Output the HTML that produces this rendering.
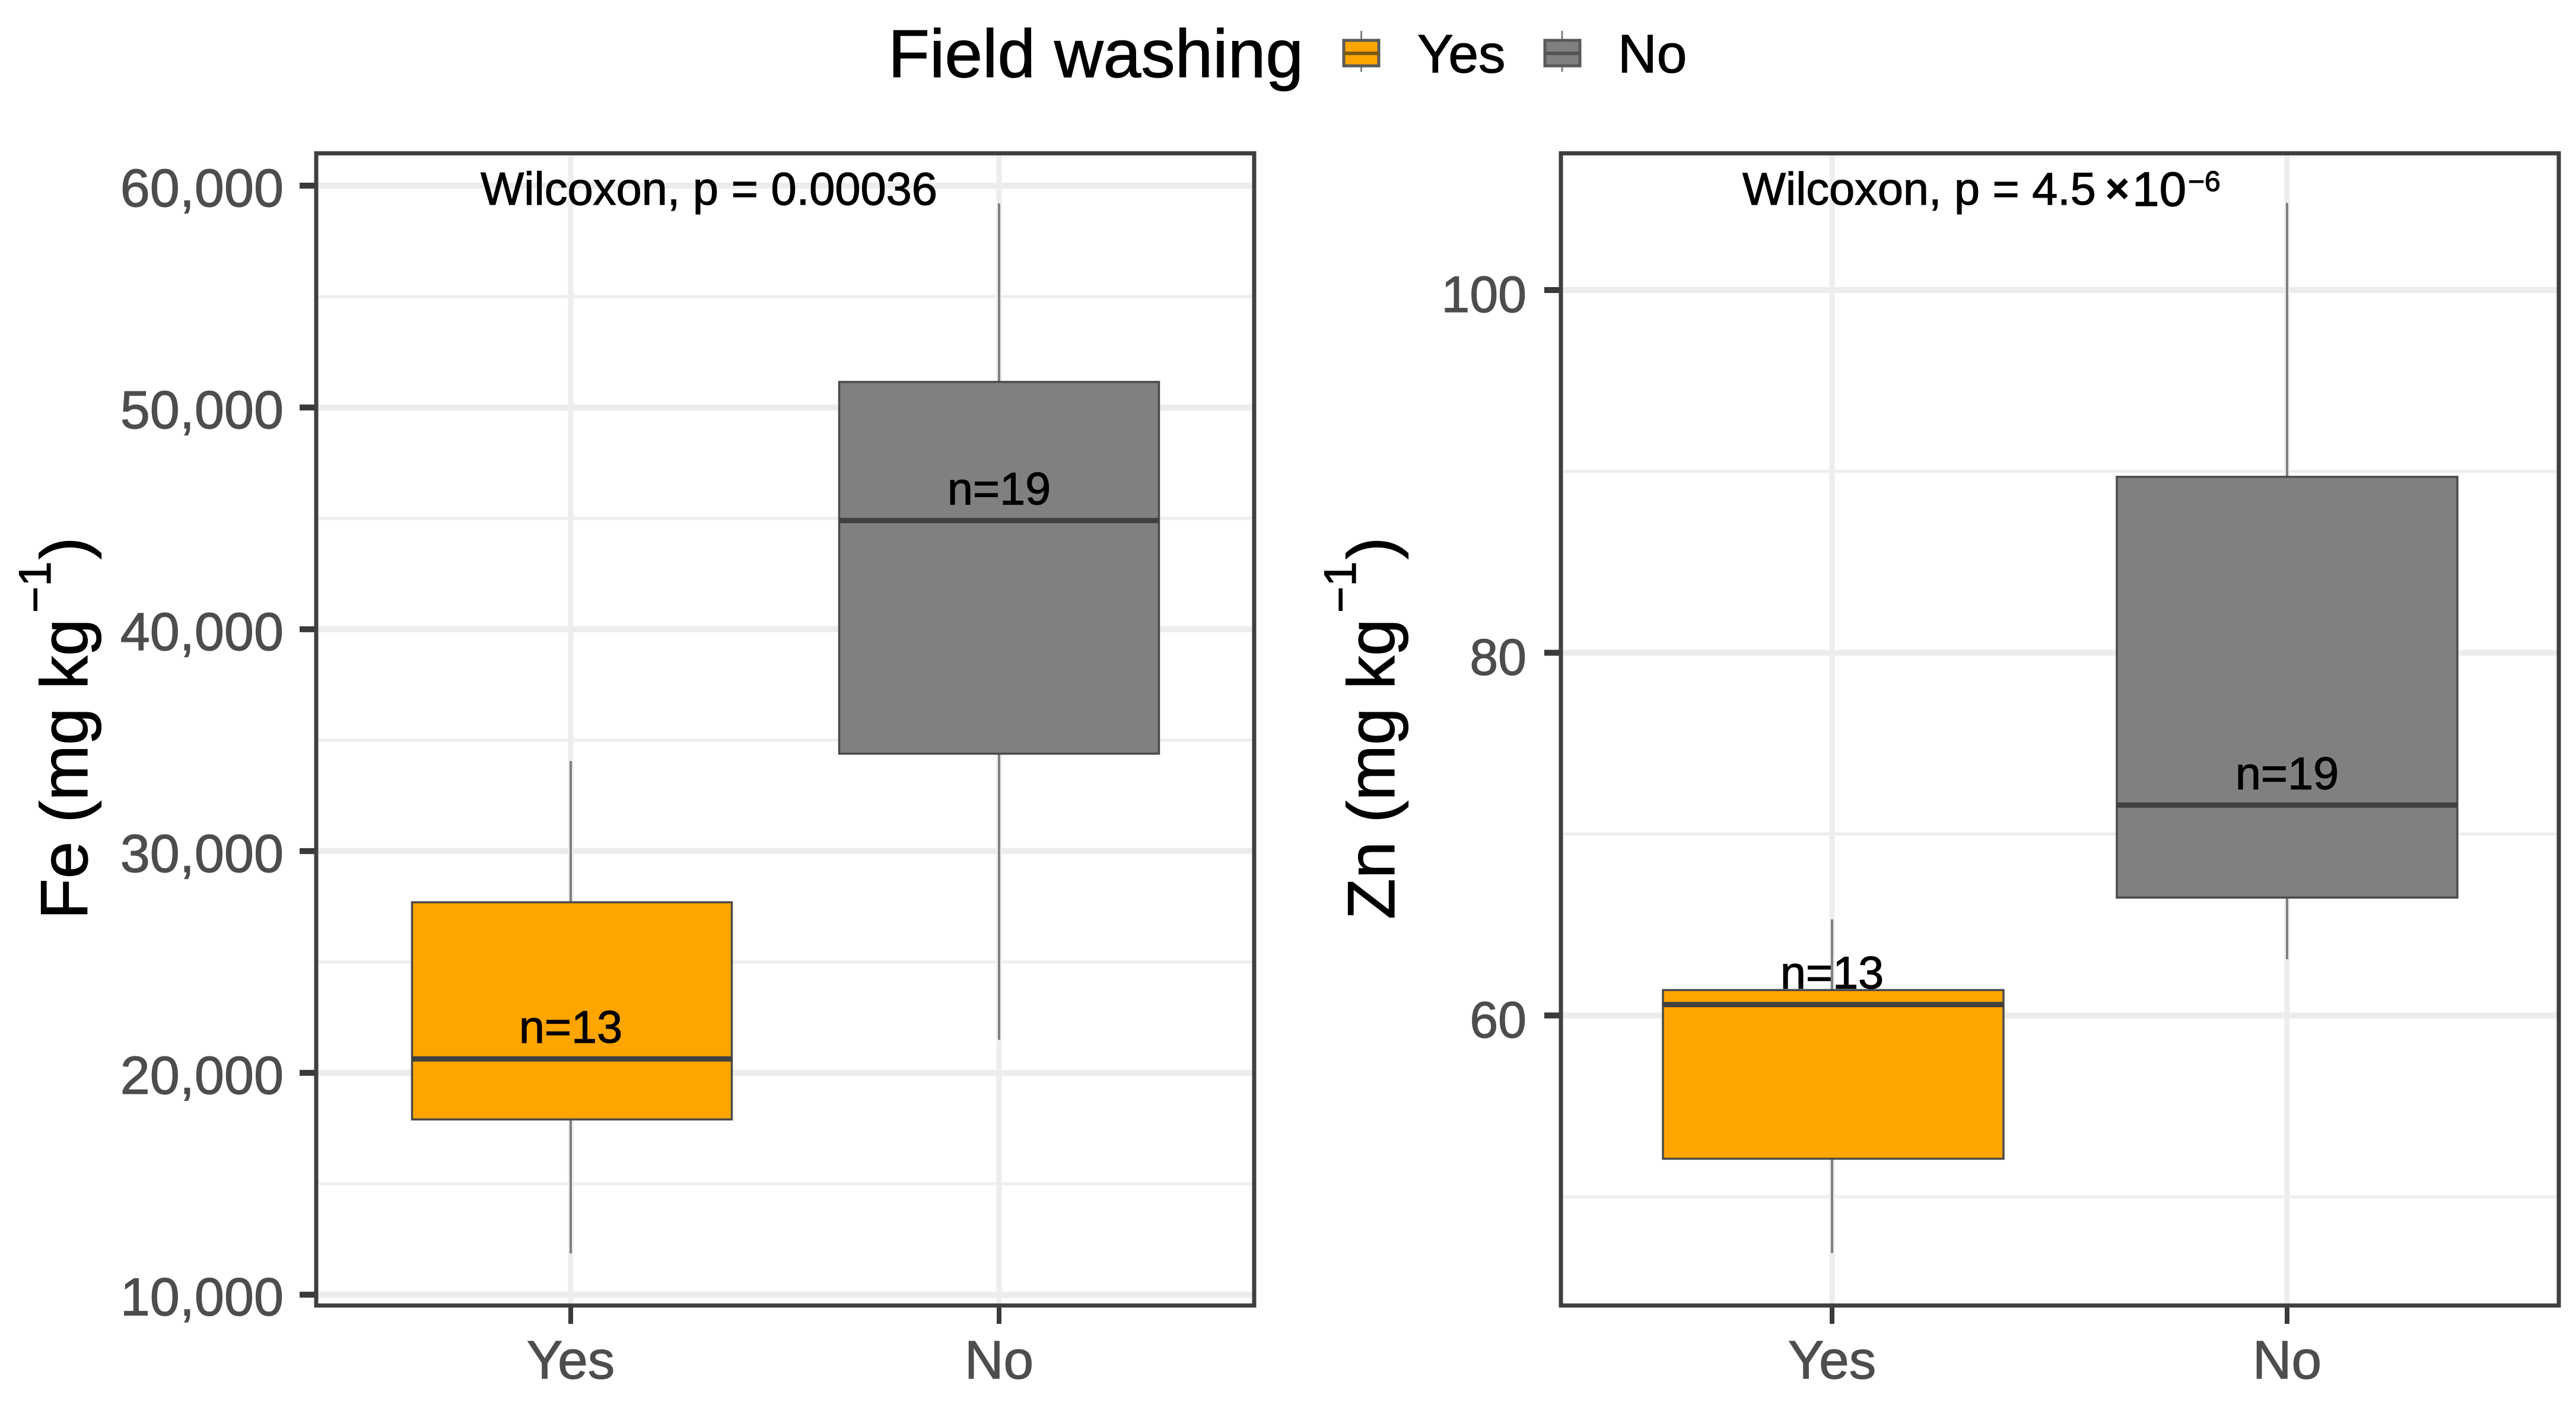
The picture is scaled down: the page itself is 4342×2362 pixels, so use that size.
<!DOCTYPE html>
<html lang="en">
<head>
<meta charset="utf-8">
<title>Field washing: Fe and Zn boxplots</title>
<style>
html,body{margin:0;padding:0;background:#fff;}
svg{display:block;}
text{font-family:"Liberation Sans",sans-serif;stroke-width:1.2;}
text[fill="#000000"]{stroke:#000000;}
text[fill="#4d4d4d"]{stroke:#4d4d4d;}
</style>
</head>
<body>
<svg id="chart" xmlns="http://www.w3.org/2000/svg" width="4342" height="2362" viewBox="0 0 4342 2362">
  <rect x="0" y="0" width="4342" height="2362" fill="#ffffff"/>
  <g>
    <text x="1497" y="130" font-size="114.5" fill="#000000">Field washing</text>
    <g>
      <line x1="2294.5" x2="2294.5" y1="52" y2="121" stroke="#808080" stroke-width="3"/>
      <rect x="2265" y="68" width="59" height="43" fill="#ffa500" stroke="#5a5a5a" stroke-width="5"/>
      <line x1="2265" x2="2324" y1="90" y2="90" stroke="#7a5a10" stroke-width="6"/>
      <text x="2389" y="122" font-size="91" fill="#000000">Yes</text>
    </g>
    <g>
      <line x1="2633" x2="2633" y1="52" y2="121" stroke="#808080" stroke-width="3"/>
      <rect x="2604" y="68" width="59" height="43" fill="#808080" stroke="#5a5a5a" stroke-width="5"/>
      <line x1="2604" x2="2663" y1="90" y2="90" stroke="#555555" stroke-width="6"/>
      <text x="2727" y="122" font-size="91" fill="#000000">No</text>
    </g>
  </g>

  <g>
    <text transform="translate(147 1550) rotate(-90)" font-size="112.6" fill="#000000">Fe (mg kg</text>
    <text transform="translate(85 1033) rotate(-90)" font-size="76" fill="#000000">−1</text>
    <text transform="translate(147 943) rotate(-90)" font-size="112.6" fill="#000000">)</text>
  </g>
  <g>
    <text transform="translate(2350 1550) rotate(-90)" font-size="112.6" fill="#000000">Zn (mg kg</text>
    <text transform="translate(2285 1033) rotate(-90)" font-size="76" fill="#000000">−1</text>
    <text transform="translate(2350 943) rotate(-90)" font-size="112.6" fill="#000000">)</text>
  </g>

  <g id="fe-panel"></g>
  <g id="zn-panel"></g>

  <text x="810" y="345" font-size="77.6" fill="#000000">Wilcoxon, p = 0.00036</text>
  <g>
    <text x="2937" y="345" font-size="77.4" fill="#000000">Wilcoxon, p = 4.5</text>
    <text x="3569" y="341" font-size="68" font-weight="bold" text-anchor="middle" fill="#000000">×</text>
    <text x="3594" y="347" font-size="82" fill="#000000">10</text>
    <text x="3688" y="322" font-size="48" fill="#000000">−6</text>
  </g>
</svg>

<script>
const categories = ['Yes', 'No'];
const boxColors = ['#ffa500', '#808080'];
const sampleLabels = ['n=13', 'n=19'];

const feMajorTicks = [10000, 20000, 30000, 40000, 50000, 60000];
const feTickLabels = ['10,000', '20,000', '30,000', '40,000', '50,000', '60,000'];
const feMinorTicks = [15000, 25000, 35000, 45000, 55000];
// low whisker, lower quartile, median, upper quartile, high whisker
const feYes = [11860, 17900, 20630, 27690, 34060];
const feNo = [21490, 34390, 44900, 51150, 59200];

const znMajorTicks = [60, 80, 100];
const znTickLabels = ['60', '80', '100'];
const znMinorTicks = [50, 70, 90];
const znYes = [46.9, 52.1, 60.6, 61.4, 65.3];
const znNo = [63.1, 66.5, 71.6, 89.7, 104.8];

const SVG_NS = 'http://www.w3.org/2000/svg';

function make(parent, tag, attrs) {
  const el = document.createElementNS(SVG_NS, tag);
  for (const key in attrs) el.setAttribute(key, attrs[key]);
  parent.appendChild(el);
  return el;
}

function linearScale(v0, p0, v1, p1) {
  return function (v) { return p0 + (v - v0) * (p1 - p0) / (v1 - v0); };
}

function drawPanel(prefix, root, frame, yScale, majorTicks, tickLabels, minorTicks, seriesList) {
  const xScale = function (i) { return frame.catX[i]; };

  for (const v of minorTicks) {
    const line = make(root, 'line', {x1: frame.left, x2: frame.right, y1: yScale(v), y2: yScale(v), stroke: '#eeeeee', 'stroke-width': 5});
    
    
  }
  majorTicks.forEach(function (v, i) {
    const line = make(root, 'line', {x1: frame.left, x2: frame.right, y1: yScale(v), y2: yScale(v), stroke: '#ececec', 'stroke-width': 10});
    
    
    const tick = make(root, 'line', {x1: frame.left - 28, x2: frame.left, y1: yScale(v), y2: yScale(v), stroke: '#3a3a3a', 'stroke-width': 10});
    
    
    const label = make(root, 'text', {x: frame.left - frame.labelGap, y: yScale(v) + frame.labelDrop, 'font-size': frame.labelSize, 'text-anchor': 'end', fill: '#4d4d4d'});
    
    
    label.textContent = tickLabels[i];
  });

  categories.forEach(function (cat, i) {
    const cx = xScale(i);
    const grid = make(root, 'line', {x1: cx, x2: cx, y1: frame.top, y2: frame.bottom, stroke: '#ededed', 'stroke-width': 9});
    
    
    const tick = make(root, 'line', {x1: cx, x2: cx, y1: frame.bottom, y2: frame.bottom + 31, stroke: '#3a3a3a', 'stroke-width': 8});
    
    
    const label = make(root, 'text', {x: cx, y: 2324, 'font-size': 91, 'text-anchor': 'middle', fill: '#4d4d4d'});
    
    
    label.textContent = cat;
  });

  seriesList.forEach(function (stats, i) {
    const cx = xScale(i);
    const group = make(root, 'g', {});
    
    

    const whisker = make(group, 'line', {x1: cx, x2: cx, y1: yScale(stats[4]), y2: yScale(stats[0]), stroke: '#808080', 'stroke-width': 4});
    
    

    const box = make(group, 'rect', {x: cx - frame.halfBox + frame.boxShift[i], width: frame.halfBox * 2, y: yScale(stats[3]), height: yScale(stats[1]) - yScale(stats[3]), fill: boxColors[i], stroke: '#4a4a4a', 'stroke-width': 3.5});
    
    

    const median = make(group, 'line', {x1: cx - frame.halfBox + frame.boxShift[i], x2: cx + frame.halfBox + frame.boxShift[i], y1: yScale(stats[2]), y2: yScale(stats[2]), stroke: '#404040', 'stroke-width': 9});
    
    

    const count = make(group, 'text', {x: cx, y: yScale(stats[2]) - 27, 'font-size': 77.4, 'text-anchor': 'middle', fill: '#000000'});
    
    
    count.textContent = sampleLabels[i];
  });

  const border = make(root, 'rect', {x: frame.left, y: frame.top, width: frame.right - frame.left, height: frame.bottom - frame.top, fill: 'none', stroke: '#3f3f3f', 'stroke-width': 7});
  
  
}

const feFrame = {left: 533, right: 2114, top: 258.5, bottom: 2201, catX: [962, 1684], boxShift: [2, 0], halfBox: 269.5, labelDrop: 35, labelGap: 55, labelSize: 90};
const znFrame = {left: 2631, right: 4313, top: 258.5, bottom: 2201, catX: [3088, 3855], boxShift: [2, 0], halfBox: 287, labelDrop: 37, labelGap: 58, labelSize: 86};

drawPanel('fe', document.getElementById('fe-panel'), feFrame, linearScale(60000, 313, 10000, 2182.7), feMajorTicks, feTickLabels, feMinorTicks, [feYes, feNo]);
drawPanel('zn', document.getElementById('zn-panel'), znFrame, linearScale(100, 489, 60, 1712), znMajorTicks, znTickLabels, znMinorTicks, [znYes, znNo]);
</script>
</body>
</html>
